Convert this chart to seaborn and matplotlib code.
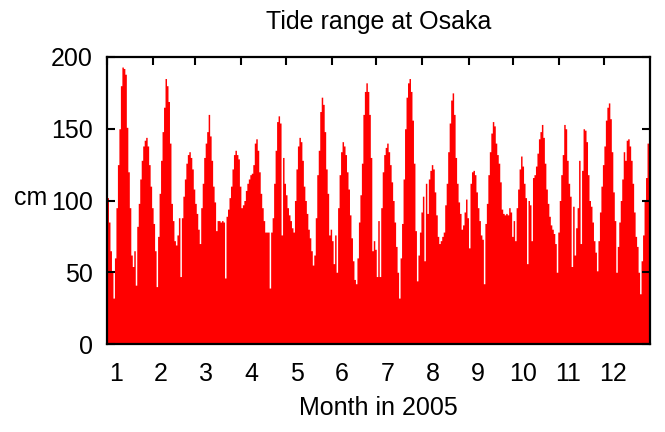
import numpy as np
import pandas as pd
import matplotlib
matplotlib.use("Agg")
import matplotlib.pyplot as plt
import seaborn as sns

# Daily tide range (cm) at Osaka, 2005, month by month
jan = [102, 85, 65, 50, 32, 60, 95, 125, 150, 180, 193, 192, 188, 151, 120, 95,
       62, 54, 65, 41, 82, 98, 115, 128, 138, 142, 144, 138, 125, 110, 95]
feb = [84, 65, 40, 75, 105, 128, 148, 165, 185, 180, 169, 140, 98, 86, 72, 69,
       76, 88, 47, 88, 103, 115, 126, 132, 134, 130, 122, 108]
mar = [98, 91, 80, 70, 95, 112, 130, 140, 148, 160, 145, 128, 110, 99, 79, 86,
       86, 85, 86, 85, 46, 89, 94, 102, 110, 122, 132, 135, 132, 129, 110]
apr = [95, 97, 100, 107, 112, 115, 118, 119, 125, 140, 143, 135, 120, 105, 95,
       86, 78, 78, 78, 39, 78, 88, 112, 135, 155, 159, 154, 76, 130, 112]
may = [104, 95, 90, 86, 81, 78, 100, 122, 138, 144, 141, 128, 110, 100, 91, 80,
       74, 65, 55, 62, 88, 118, 135, 162, 172, 167, 148, 122, 105, 76, 80]
jun = [72, 56, 76, 50, 95, 118, 134, 141, 138, 132, 120, 108, 90, 74, 58, 45,
       42, 60, 85, 104, 126, 160, 176, 182, 176, 160, 130, 65, 72, 66]
jul = [47, 86, 47, 95, 120, 132, 137, 140, 134, 125, 113, 100, 85, 68, 50, 32,
       60, 84, 115, 150, 172, 182, 185, 176, 156, 126, 79, 44, 62, 78, 92]
aug = [103, 58, 112, 91, 115, 121, 125, 122, 106, 90, 75, 70, 72, 75, 78, 97,
       112, 134, 154, 170, 175, 160, 130, 112, 99, 91, 80, 83, 92, 101, 88]
sep = [67, 112, 120, 121, 118, 106, 95, 86, 76, 73, 42, 84, 98, 118, 134, 147,
       155, 152, 140, 132, 126, 113, 94, 91, 90, 91, 90, 95, 92, 75]
oct_ = [86, 72, 95, 108, 122, 131, 124, 112, 102, 56, 100, 97, 72, 116, 118, 124,
        133, 143, 148, 153, 144, 126, 108, 98, 89, 83, 80, 77, 70, 50, 78]
nov = [100, 118, 132, 153, 150, 128, 112, 103, 54, 96, 62, 81, 95, 128, 70, 121,
       150, 149, 141, 118, 100, 96, 85, 72, 64, 51, 72, 92, 110, 125]
dec = [138, 156, 165, 168, 157, 134, 106, 86, 50, 68, 85, 100, 115, 134, 128,
       142, 143, 138, 128, 112, 92, 75, 68, 50, 35, 58, 76, 100, 116, 140, 161]

months = [jan, feb, mar, apr, may, jun, jul, aug, sep, oct_, nov, dec]
month_labels = ["1", "2", "3", "4", "5", "6", "7", "8", "9", "10", "11", "12"]
month_lengths = [len(m) for m in months]

tide_range = np.concatenate(months)
n_days = len(tide_range)
day = np.arange(n_days) + 0.5
df = pd.DataFrame({"day": day, "range": tide_range})

month_starts = np.concatenate([[0], np.cumsum(month_lengths)[:-1]])
label_pos = 6 + np.arange(12) * 30.4

plt.rcParams["font.family"] = ["Liberation Sans", "DejaVu Sans"]

fig = plt.figure(figsize=(6.65, 4.32), dpi=100)
ax = fig.add_axes([107 / 665, 1 - 344 / 432, 543 / 665, 287 / 432])

# one bin per day, bar height = that day's tide range; drawn as one filled step outline
sns.histplot(data=df, x="day", weights="range", bins=n_days, binrange=(0, n_days),
             element="step", fill=True, color="#ff0000", alpha=1, linewidth=0,
             ax=ax)

ax.set_xlim(0, n_days)
ax.set_ylim(0, 200)

FS = 18
ax.set_xticks(month_starts)
ax.set_xticklabels([])
ax.set_xticks(label_pos, minor=True)
ax.set_xticklabels(month_labels, minor=True, fontsize=FS)
ax.tick_params(axis="x", which="major", direction="in", top=True, bottom=False,
               length=6, width=1.5)
ax.tick_params(axis="x", which="minor", length=0, pad=13)

ax.set_yticks([0, 50, 100, 150, 200])
ax.tick_params(axis="y", direction="in", left=True, right=True, length=6,
               width=1.5, labelsize=FS, pad=10)

for s in ax.spines.values():
    s.set_linewidth(1.6)
    s.set_zorder(5)

ax.set_title("Tide range at Osaka", fontsize=FS, pad=20)
ax.set_xlabel("Month in 2005", fontsize=FS, labelpad=7)
ax.set_ylabel("cm", fontsize=FS, rotation=0, ha="center", va="center")
ax.yaxis.set_label_coords((31 - 107) / 543, (344 - 198) / 287)

fig.savefig("out.png", dpi=100)
